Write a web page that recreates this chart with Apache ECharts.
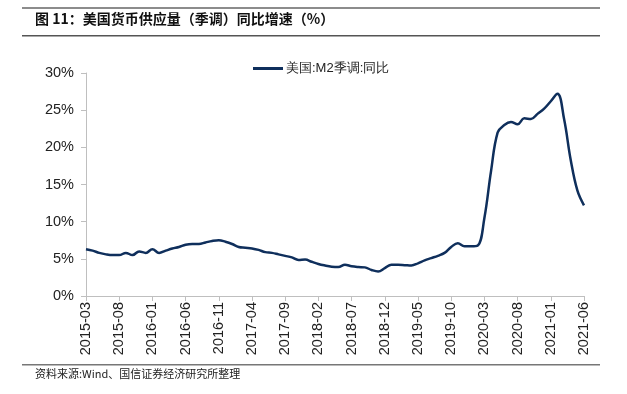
<!DOCTYPE html>
<html>
<head>
<meta charset="utf-8">
<script src="https://cdn.jsdelivr.net/npm/echarts@6/dist/echarts.min.js"></script>
<style>html,body{margin:0;padding:0;background:#fff}#c{width:627px;height:394px}</style>
</head>
<body>
<div id="c"></div>
<script>
const startYear = 2015, startMonth = 3, monthCount = 76;
const categories = [];
for (let i = 0; i < monthCount; i++) {
  const m = startMonth - 1 + i;
  const y = startYear + Math.floor(m / 12);
  const mm = (m % 12) + 1;
  categories.push(y + '-' + (mm < 10 ? '0' + mm : mm));
}
const seriesName = '美国:M2季调:同比';
const m2YoY = [
  6.3, 6.1, 5.8, 5.6, 5.5, 5.5, 5.8, 5.5, 6.0, 5.8,
  6.3, 5.8, 6.1, 6.4, 6.6, 6.9, 7.0, 7.0, 7.2, 7.4,
  7.5, 7.3, 7.0, 6.6, 6.5, 6.4, 6.2, 5.9, 5.8, 5.6,
  5.4, 5.2, 4.85, 4.9, 4.6, 4.3, 4.1, 3.95, 3.9, 4.2,
  4.0, 3.9, 3.85, 3.5, 3.3, 3.75, 4.2, 4.2, 4.15, 4.1,
  4.4, 4.8, 5.1, 5.4, 5.8, 6.6, 7.1, 6.7, 6.7, 6.8,
  10.5, 16.8, 22.0, 23.0, 23.4, 23.1, 23.9, 23.8, 24.5, 25.2,
  26.2, 27.2, 23.8, 18.3, 14.2, 12.2
];
const yTicks = [0, 5, 10, 15, 20, 25, 30];
const titleText = '图 11：美国货币供应量（季调）同比增速（%）';
const sourceText = '资料来源:Wind、国信证券经济研究所整理';

const chart = echarts.init(document.getElementById('c'), null, {renderer: 'canvas'});
const font = 'Liberation Sans, Arial, sans-serif';
chart.setOption({
  animation: false,
  textStyle: {fontFamily: font},
  grid: {left: 86, right: 43, top: 73, bottom: 98, containLabel: false},
  legend: {
    data: [seriesName], top: 57, left: 248,
    itemWidth: 30, itemHeight: 3, itemGap: 6,
    icon: 'rect',
    textStyle: {fontSize: 13, color: '#222', fontFamily: font, padding: [0, 0, 0, -2]}
  },
  xAxis: {
    type: 'category', data: categories, boundaryGap: false,
    axisLine: {lineStyle: {color: '#bfbfbf', width: 1}},
    axisTick: {show: true, interval: 4, length: 5, lineStyle: {color: '#bfbfbf'}},
    axisLabel: {interval: 4, rotate: 90, fontSize: 14.5, color: '#222', margin: 6, fontFamily: font},
    splitLine: {show: false}
  },
  yAxis: {
    type: 'value', min: yTicks[0], max: yTicks[yTicks.length - 1], interval: 5,
    axisLine: {show: true, lineStyle: {color: '#bfbfbf', width: 1}},
    axisTick: {show: true, length: 5, lineStyle: {color: '#bfbfbf'}},
    axisLabel: {formatter: v => v + '%', fontSize: 14.5, color: '#222', margin: 12, fontFamily: font},
    splitLine: {show: false}
  },
  series: [{
    name: seriesName, type: 'line', data: m2YoY, smooth: 0.4,
    symbol: 'none', lineStyle: {color: '#0f2f5c', width: 2.5},
    itemStyle: {color: '#0f2f5c'}
  }],
  graphic: [
    {type: 'rect', shape: {x: 22, y: 7, width: 578, height: 2}, style: {fill: '#8c8c8c'}},
    {type: 'text', left: 35, top: 12, style: {text: titleText, font: 'bold 14px "Noto Sans CJK SC", sans-serif', fill: '#111'}},
    {type: 'rect', shape: {x: 22, y: 35, width: 578, height: 1.5}, style: {fill: '#555'}},
    {type: 'rect', shape: {x: 22, y: 364, width: 578, height: 1.5}, style: {fill: '#777'}},
    {type: 'text', left: 35, top: 368, style: {text: sourceText, font: '11px "Noto Sans CJK SC", sans-serif', fill: '#222'}}
  ]
});
</script>
</body>
</html>
